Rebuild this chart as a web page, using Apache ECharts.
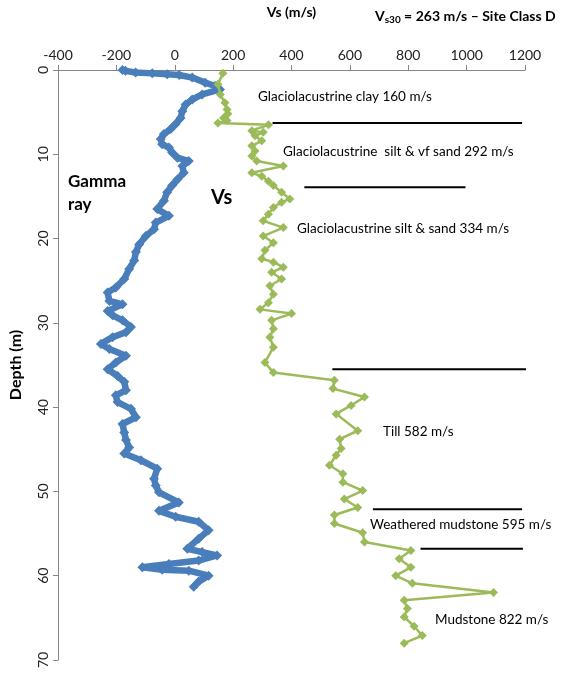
<!DOCTYPE html>
<html>
<head>
<meta charset="utf-8">
<script src="https://cdn.jsdelivr.net/npm/echarts@6/dist/echarts.min.js"></script>
<style>
html,body{margin:0;padding:0;background:#fff;}
#chart{width:584px;height:675px;}
</style>
</head>
<body>
<div id="chart"></div>
<script>
// ---- Data ----
const xTicks = [-400, -200, 0, 200, 400, 600, 800, 1000, 1200];
const depthTicks = [0, 10, 20, 30, 40, 50, 60, 70];

// Gamma ray log (depth m, value on shared axis)
const grDepth = [0,0.1,0.3,0.4,0.5,0.6,0.9,1.5,1.9,2.3,2.9,3.5,4.1,4.9,5.7,6.4,7.0,7.6,8.2,8.8,9.2,9.8,10.4,10.8,11.4,12.2,13.0,13.7,14.5,15.5,16.5,17.3,18.1,18.9,19.7,20.7,21.6,22.6,23.6,24.8,25.8,26.4,27.4,27.8,28.6,29.1,29.7,30.5,31.1,31.7,32.5,33.1,33.9,34.7,35.5,36.3,37.0,38.0,38.6,39.4,40.2,41.2,42.0,43.0,43.9,44.8,45.5,46.3,47.3,48.5,49.3,50.1,51.3,52.3,53.0,53.6,54.6,55.6,56.8,57.2,57.6,58.2,58.6,59.0,59.3,59.4,60.0,60.7,61.3];
const grValue = [-179,-169,-134,-77,-26,15,60,104,138,155,94,60,37,26,20,3,-14,-37,-48,-43,-20,-9,9,48,26,31,9,-9,-26,-37,-60,-20,-65,-71,-99,-122,-133,-139,-156,-173,-202,-230,-224,-179,-230,-213,-179,-150,-167,-213,-253,-224,-167,-202,-230,-196,-173,-167,-202,-196,-150,-133,-179,-173,-167,-156,-173,-116,-60,-71,-65,-54,14,-54,3,82,116,82,43,94,145,82,-20,-111,-43,48,116,82,65];

// Shear-wave velocity Vs (m/s)
const vsDepth = [0.4,1.7,2.9,3.9,4.7,5.2,5.7,6.0,6.3,6.5,7.2,7.4,7.8,8.4,9.0,9.6,10.2,10.8,11.4,12.2,12.6,13.2,13.7,14.5,15.3,15.7,16.3,17.1,17.9,18.7,19.7,20.5,21.4,22.4,22.8,23.4,24.0,24.8,25.6,26.6,27.6,28.4,28.9,29.7,30.7,31.7,32.9,34.7,35.9,36.8,37.8,38.8,39.8,40.8,42.8,43.8,44.9,45.7,46.9,47.9,48.9,49.9,50.9,51.9,52.8,53.8,54.9,56.0,57.0,58.0,59.0,60.0,60.9,62.0,62.9,63.9,64.9,66.0,67.1,68.0];
const vsValue = [165,148,156,172,179,182,167,179,148,321,264,303,275,298,264,275,264,281,372,264,298,321,338,366,394,366,338,321,303,372,303,338,309,298,338,372,332,366,326,338,321,292,400,332,338,326,338,309,338,547,542,650,604,553,627,565,570,553,530,576,576,644,581,627,547,547,644,650,809,769,809,757,814,1092,786,797,786,820,848,786];

// Layer boundaries (depth, start and end on Vs axis)
const boundaryDepth = [6.3, 13.9, 35.5, 52.1, 56.8];
const boundaryFrom  = [335, 444, 540, 679, 842];
const boundaryTo    = [1190, 996, 1220, 1190, 1193];

const layerLabels = [
  'Glaciolacustrine clay 160 m/s',
  'Glaciolacustrine  silt & vf sand 292 m/s',
  'Glaciolacustrine silt & sand 334 m/s',
  'Till 582 m/s',
  'Weathered mudstone 595 m/s',
  'Mudstone 822 m/s'
];
const layerLabelPos = [[258,97],[283,152],[297,229],[383,432],[370,525],[435,620]];

// ---- Build ----
const grData = grDepth.map((d,i)=>[grValue[i], d]);
const vsData = vsDepth.map((d,i)=>[vsValue[i], d]);
const boundarySeries = boundaryDepth.map((d,i)=>({
  type:'line', data:[[boundaryFrom[i], d],[boundaryTo[i], d]],
  symbol:'none', clip:false, silent:true,
  lineStyle:{color:'#000', width:2}, z:1
}));

const FONT = 'Lato';
const chart = echarts.init(document.getElementById('chart'));
chart.setOption({
  animation:false,
  backgroundColor:'#fff',
  textStyle:{fontFamily:FONT},
  grid:{left:55, right:59, top:69, bottom:15},
  xAxis:{
    type:'value', position:'top', min:-400, max:1200, interval:200,
    name:'Vs (m/s)', nameLocation:'middle', nameGap:51,
    nameTextStyle:{fontFamily:FONT, fontWeight:'bold', fontSize:14, color:'#000'},
    axisLine:{show:true, onZero:false, lineStyle:{color:'#868686', width:1}},
    axisTick:{show:true, length:5, lineStyle:{color:'#868686'}},
    axisLabel:{fontFamily:FONT, fontSize:14, color:'#222', margin:8,
      formatter:(v)=>String(v)},
    splitLine:{show:false}
  },
  yAxis:{
    type:'value', inverse:true, min:0, max:70, interval:10,
    name:'Depth (m)', nameLocation:'middle', nameGap:34, nameRotate:90,
    nameTextStyle:{fontFamily:FONT, fontWeight:'bold', fontSize:16, color:'#000'},
    axisLine:{show:true, onZero:false, lineStyle:{color:'#868686', width:1}},
    axisTick:{show:true, length:5, lineStyle:{color:'#868686'}},
    axisLabel:{fontFamily:FONT, fontSize:14, color:'#222', rotate:90, margin:8,
      formatter:(v)=>String(v)},
    splitLine:{show:false}
  },
  series:[
    ...boundarySeries,
    {
      name:'Gamma ray', type:'line', data:grData, clip:false,
      symbol:'diamond', symbolSize:10, showSymbol:true,
      itemStyle:{color:'#4A7EBB'},
      lineStyle:{color:'#4A7EBB', width:6.5}, z:3
    },
    {
      name:'Vs', type:'line', data:vsData, clip:false,
      symbol:'diamond', symbolSize:9, showSymbol:true,
      itemStyle:{color:'#9BBB59'},
      lineStyle:{color:'#9BBB59', width:2.5}, z:4
    }
  ],
  graphic:[
    {type:'text', left:375, top:9, style:{
      text:'{b|V}{s|s30}{b| = 263 m/s \u2013 Site Class D}',
      rich:{
        b:{fontFamily:FONT, fontWeight:'bold', fontSize:14, fill:'#000'},
        s:{fontFamily:FONT, fontWeight:'bold', fontSize:10, fill:'#000', padding:[8,0,0,0]}
      }}},
    {type:'text', left:68, top:170, style:{text:'Gamma\nray', fontFamily:FONT, fontWeight:'bold', fontSize:17, lineHeight:23, fill:'#000'}},
    {type:'text', left:211, top:188, style:{text:'Vs', fontFamily:FONT, fontWeight:'bold', fontSize:20, fill:'#000'}},
    ...layerLabels.map((t,i)=>({type:'text', x:layerLabelPos[i][0], y:layerLabelPos[i][1],
      style:{text:t, fontFamily:FONT, fontSize:13.5, fill:'#000', verticalAlign:'middle'}}))
  ]
});
</script>
</body>
</html>
